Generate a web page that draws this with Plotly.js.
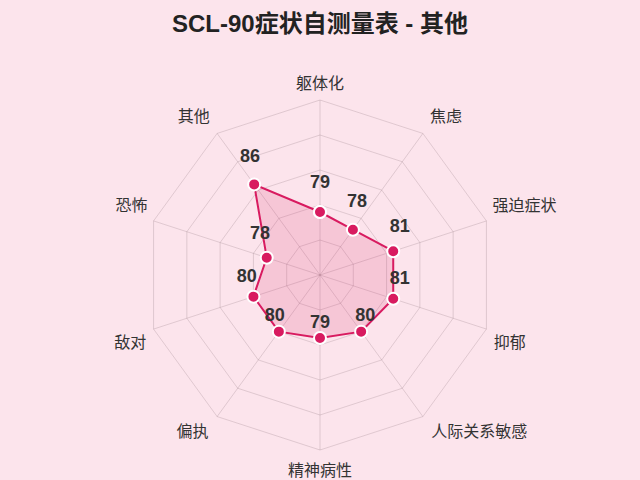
<!DOCTYPE html>
<html>
<head>
<meta charset="utf-8">
<script src="https://cdn.plot.ly/plotly-3.0.1.min.js"></script>
<style>
  html, body { margin: 0; padding: 0; background: #fce4ec; }
  #radar { width: 640px; height: 480px; }
</style>
</head>
<body>
<div id="radar"></div>
<script>
// SCL-90 factor names, clockwise from the top
let categories = ['躯体化', '焦虑', '强迫症状', '抑郁', '人际关系敏感', '精神病性', '偏执', '敌对', '恐怖', '其他'];
let scores = [79, 78, 81, 81, 80, 79, 80, 80, 78, 86];

let radialRange = [70, 95];
let lineColor = '#d81b60';

// close the polygon
let theta = categories.concat([categories[0]]);
let r = scores.concat([scores[0]]);

let trace1 = {
  type: 'scatterpolar',
  r: r,
  theta: theta,
  mode: 'lines+markers',
  fill: 'toself',
  fillcolor: 'rgba(216, 27, 96, 0.15)',
  line: { color: lineColor, width: 2 },
  marker: { color: lineColor, size: 12, line: { color: '#ffffff', width: 2 } },
  hoverinfo: 'skip',
  showlegend: false
};

// value labels, nudged a little outwards; the hidden marker pushes the text up
let trace2 = {
  type: 'scatterpolar',
  r: scores.map(function (v) { return v + 1; }),
  theta: categories,
  mode: 'markers+text',
  marker: { size: 18, opacity: 0 },
  text: scores.map(String),
  textposition: 'top center',
  textfont: { size: 18, color: '#333333', family: 'Liberation Sans, Arial, sans-serif', weight: 'bold' },
  hoverinfo: 'skip',
  showlegend: false
};

// category names sit just outside the outer ring
let namePositions = ['top center', 'top right', 'top right', 'bottom right', 'bottom right',
  'bottom center', 'bottom left', 'bottom left', 'top left', 'top left'];
// hidden marker sizes set the gap between ring and name
let nameGaps = [10, 10, 8, 10, 12, 20, 12, 10, 8, 10];

let trace3 = {
  type: 'scatterpolar',
  r: categories.map(function () { return radialRange[1]; }),
  theta: categories,
  mode: 'markers+text',
  marker: { size: nameGaps, opacity: 0 },
  text: categories,
  textposition: namePositions,
  textfont: { size: 16, color: '#333333', family: 'Noto Sans CJK SC, sans-serif' },
  cliponaxis: false,
  hoverinfo: 'skip',
  showlegend: false
};

let gridColor = 'rgba(140, 115, 125, 0.25)';

let layout = {
  width: 640,
  height: 480,
  paper_bgcolor: '#fce4ec',
  plot_bgcolor: '#fce4ec',
  margin: { t: 100, b: 30, l: 80, r: 80 },
  font: { family: 'Liberation Sans, Noto Sans CJK SC, sans-serif', color: '#333333' },
  title: {
    text: '<b>SCL-90症状自测量表 - 其他</b>',
    font: { size: 24, color: '#222222', family: 'Liberation Sans, Noto Sans CJK SC, sans-serif' },
    x: 0.5,
    xanchor: 'center',
    yref: 'container',
    y: 0.95,
    yanchor: 'middle'
  },
  polar: {
    bgcolor: 'rgba(0,0,0,0)',
    gridshape: 'linear',
    radialaxis: {
      range: radialRange,
      dtick: 5,
      showticklabels: false,
      ticks: '',
      showline: false,
      gridcolor: gridColor
    },
    angularaxis: {
      rotation: 90,
      direction: 'clockwise',
      ticks: '',
      showticklabels: false,
      gridcolor: gridColor,
      linecolor: gridColor
    }
  }
};

Plotly.newPlot('radar', [trace1, trace2, trace3], layout, { displayModeBar: false });
</script>
</body>
</html>
